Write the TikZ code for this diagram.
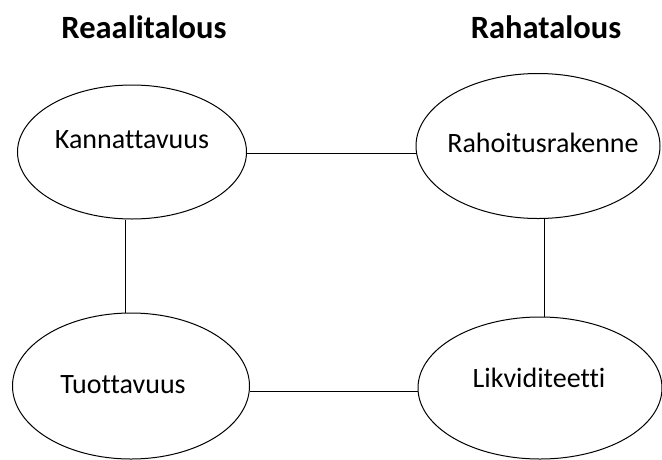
\documentclass[tikz,border=0pt]{standalone}
\usepackage{fontspec}
\setmainfont[Ligatures=NoCommon]{Carlito}
\usetikzlibrary{shapes.geometric}
\begin{document}
\begin{tikzpicture}[x=1pt,y=-1pt,
  bubble/.style={draw=black,line width=1pt,ellipse,inner sep=0pt},
  label/.style={font=\fontsize{28}{32}\selectfont},
  head/.style={font=\fontsize{32.5}{36}\selectfont\bfseries},
  link/.style={draw=black,line width=1pt}]
\useasboundingbox (0,0) rectangle (662,459);
% column headings
\node[head] (hreal) at (144,27) {Reaalitalous};
\node[head] (hraha) at (546,27) {Rahatalous};
% ellipses
\node[bubble,minimum width=229,minimum height=134] (kan) at (132,152) {};
\node[bubble,minimum width=244,minimum height=145] (rah) at (538,146) {};
\node[bubble,minimum width=237,minimum height=146] (tuo) at (131,386) {};
\node[bubble,minimum width=244,minimum height=142] (lik) at (540,388) {};
% texts inside ellipses
\node[label] (tkan) at (132,140) {Kannattavuus};
\node[label] (trah) at (543,143) {Rahoitusrakenne};
\node[label] (ttuo) at (123,385) {Tuottavuus};
\node[label] (tlik) at (539,378) {Likviditeetti};
% connectors
\draw[link] (kan.east |- 0,153) -- (rah.west |- 0,153);
\draw[link] (tuo.east |- 0,391) -- (lik.west |- 0,391);
\draw[link] (kan.south -| 125,0) -- (tuo.north -| 125,0);
\draw[link] (rah.south -| 544,0) -- (lik.north -| 544,0);
\end{tikzpicture}
\end{document}
